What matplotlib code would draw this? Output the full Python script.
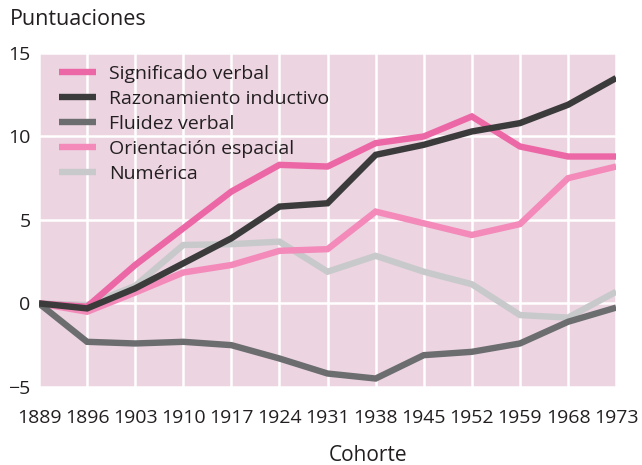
import numpy as np
import matplotlib
matplotlib.use("Agg")
import matplotlib.pyplot as plt

plt.rcParams['font.family'] = ['Open Sans', 'DejaVu Sans']

# Cohortes (eje x, espaciado uniforme)
cohortes = ["1889", "1896", "1903", "1910", "1917", "1924", "1931",
            "1938", "1945", "1952", "1959", "1968", "1973"]

significado_verbal = [0, -0.2, 2.3, 4.5, 6.7, 8.3, 8.2, 9.6, 10.0, 11.2, 9.4, 8.8, 8.8]
razonamiento_inductivo = [0, -0.3, 0.9, 2.4, 3.9, 5.8, 6.0, 8.9, 9.5, 10.3, 10.8, 11.9, 13.5]
fluidez_verbal = [0, -2.3, -2.4, -2.3, -2.5, -3.3, -4.2, -4.5, -3.1, -2.9, -2.4, -1.1, -0.25]
orientacion_espacial = [0, -0.5, 0.65, 1.85, 2.3, 3.15, 3.25, 5.5, 4.8, 4.1, 4.75, 7.5, 8.2]
numerica = [0, -0.1, 1.05, 3.5, 3.55, 3.7, 1.9, 2.85, 1.9, 1.15, -0.7, -0.85, 0.7]

series = [
    ("Significado verbal", significado_verbal, "#ec67a5", 4),
    ("Razonamiento inductivo", razonamiento_inductivo, "#3b3b3c", 6),
    ("Fluidez verbal", fluidez_verbal, "#6c6d6f", 5),
    ("Orientación espacial", orientacion_espacial, "#f38aba", 3),
    ("Numérica", numerica, "#c8c9ca", 2),
]

texto = "#231f20"

fig = plt.figure(figsize=(6.42, 4.65), dpi=100)
ax = fig.add_axes([0.0607, 0.168, 0.899, 0.718])
ax.set_facecolor("#ecd4e1")

x = np.arange(len(cohortes))
for nombre, valores, color, z in series:
    ax.plot(x, valores, color=color, lw=4.6, label=nombre, zorder=z,
            solid_joinstyle="miter", solid_capstyle="butt")

ax.set_xlim(0, len(cohortes) - 1)
ax.set_ylim(-5, 15)
ax.set_xticks(x)
ax.set_xticklabels(cohortes)
ax.set_yticks([-5, 0, 5, 10, 15])
ax.set_yticklabels(["\u22125", "0", "5", "10", "15"])
ax.tick_params(length=0, labelsize=14, colors=texto)
ax.tick_params(axis="x", pad=16)
ax.tick_params(axis="y", pad=6)
ax.grid(True, color="white", lw=1.8, zorder=0)
for s in ax.spines.values():
    s.set_visible(False)

leg = ax.legend(loc="upper left", bbox_to_anchor=(0.015, 1.0), frameon=False,
                fontsize=14, handlelength=1.9, handletextpad=0.65,
                labelspacing=0.36, borderaxespad=0.2)
for t in leg.get_texts():
    t.set_color(texto)

fig.text(0.016, 0.957, "Puntuaciones", fontsize=15.5, color=texto, va="center")
fig.text(0.574, 0.0215, "Cohorte", fontsize=15, color=texto, ha="center", va="center")

fig.savefig("out.png", dpi=100)
